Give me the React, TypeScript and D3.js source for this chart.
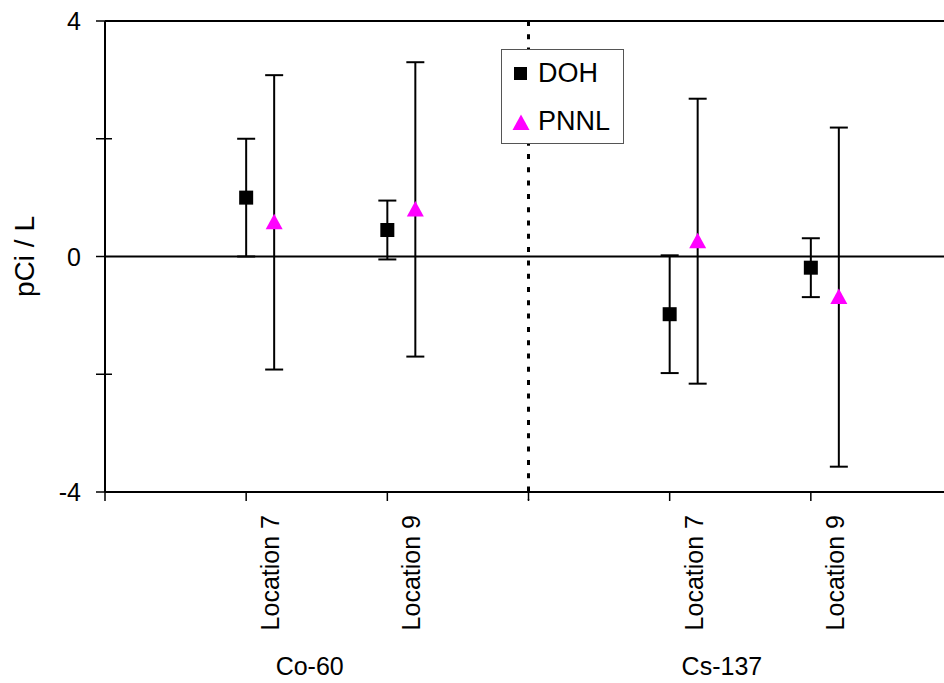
import React from "react";
import * as d3 from "d3";

const categories = ["Location 7", "Location 9", "Location 7", "Location 9"];
const categoryIndex = [1, 2, 4, 5];
const groups = ["Co-60", "Cs-137"];
const groupCenters = [1.45, 4.37];
const separatorIndex = 3;
const dohValues = [1.0, 0.45, -0.98, -0.19];
const dohErrors = [1.0, 0.5, 1.0, 0.5];
const pnnlValues = [0.58, 0.8, 0.26, -0.69];
const pnnlErrors = [2.5, 2.5, 2.42, 2.88];
const yTicks = [4, 0, -4];
const yMinorTicks = [2, -2];
const seriesNames = ["DOH", "PNNL"];

const W = 944;
const H = 683;
const FONT = "'Liberation Sans', Arial, sans-serif";

export default function App() {
  const x = d3.scaleLinear().domain([0, 6]).range([105, 952]);
  const y = d3.scaleLinear().domain([-4, 4]).range([492, 21]);
  const pnnlOffset = 28;
  const cap = 9;
  const tri = "M0,-8.5L8.5,7L-8.5,7Z";

  const errorBar = (cx: number, v: number, e: number, key: string) => (
    <g key={key} stroke="#000" strokeWidth={2}>
      <line x1={cx} x2={cx} y1={y(v + e)} y2={y(v - e)} />
      <line x1={cx - cap} x2={cx + cap} y1={y(v + e)} y2={y(v + e)} />
      <line x1={cx - cap} x2={cx + cap} y1={y(v - e)} y2={y(v - e)} />
    </g>
  );

  return (
    <svg
      width={W}
      height={H}
      style={{ position: "absolute", left: 0, top: 0, background: "#fff" }}
      fontFamily={FONT}
    >
      <rect x={0} y={0} width={W} height={H} fill="#fff" />
      {/* frame */}
      <line x1={x(0)} x2={x(6)} y1={y(4)} y2={y(4)} stroke="#000" strokeWidth={2} />
      <line x1={x(0)} x2={x(0)} y1={y(4)} y2={y(-4)} stroke="#000" strokeWidth={2} />
      <line x1={x(0)} x2={x(6)} y1={y(-4)} y2={y(-4)} stroke="#000" strokeWidth={2} />
      <line x1={x(0)} x2={x(6)} y1={y(0)} y2={y(0)} stroke="#000" strokeWidth={2} />
      {/* separator */}
      <line
        x1={x(separatorIndex)}
        x2={x(separatorIndex)}
        y1={y(4)}
        y2={y(-4) + 8}
        stroke="#000"
        strokeWidth={3}
        strokeDasharray="5,8.3"
      />
      {/* y ticks */}
      {yTicks.map((t) => (
        <g key={"yt" + t}>
          <line x1={x(0) - 9} x2={x(0)} y1={y(t)} y2={y(t)} stroke="#000" strokeWidth={1.5} />
          <text x={x(0) - 24} y={y(t)} textAnchor="end" dominantBaseline="central" fontSize={25}>
            {t}
          </text>
        </g>
      ))}
      {yMinorTicks.map((t) => (
        <line key={"ym" + t} x1={x(0) - 9} x2={x(0) + 7} y1={y(t)} y2={y(t)} stroke="#000" strokeWidth={1.5} />
      ))}
      {/* x ticks */}
      {d3.range(0, 6).map((i) => (
        <line key={"xt" + i} x1={x(i)} x2={x(i)} y1={y(-4)} y2={y(-4) + 9} stroke="#000" strokeWidth={1.5} />
      ))}
      {/* category labels */}
      {categories.map((c, i) => {
        const cx = x(categoryIndex[i]) + 33;
        const cy = y(-4) + 23;
        return (
          <text key={"cl" + i} transform={`translate(${cx},${cy}) rotate(-90)`} textAnchor="end" fontSize={25}>
            {c}
          </text>
        );
      })}
      {groups.map((g, i) => (
        <text key={"g" + i} x={x(groupCenters[i])} y={675} textAnchor="middle" fontSize={25}>
          {g}
        </text>
      ))}
      {/* y label */}
      <text transform={`translate(34,${y(0)}) rotate(-90)`} textAnchor="middle" fontSize={28}>
        pCi / L
      </text>
      {/* error bars */}
      {dohValues.map((v, i) => errorBar(x(categoryIndex[i]), v, dohErrors[i], "de" + i))}
      {pnnlValues.map((v, i) => errorBar(x(categoryIndex[i]) + pnnlOffset, v, pnnlErrors[i], "pe" + i))}
      {/* markers */}
      {dohValues.map((v, i) => (
        <rect key={"dm" + i} x={x(categoryIndex[i]) - 7} y={y(v) - 7} width={14} height={14} fill="#000" />
      ))}
      {pnnlValues.map((v, i) => (
        <path key={"pm" + i} d={tri} transform={`translate(${x(categoryIndex[i]) + pnnlOffset},${y(v)})`} fill="#FF00FF" />
      ))}
      {/* legend */}
      <rect x={501.5} y={49.5} width={122} height={94} fill="#fff" stroke="#555" strokeWidth={1} />
      <rect x={514} y={67} width={13} height={13} fill="#000" />
      <text x={538} y={82} fontSize={27}>
        {seriesNames[0]}
      </text>
      <path d={tri} transform="translate(521,123)" fill="#FF00FF" />
      <text x={538} y={130} fontSize={27}>
        {seriesNames[1]}
      </text>
    </svg>
  );
}
